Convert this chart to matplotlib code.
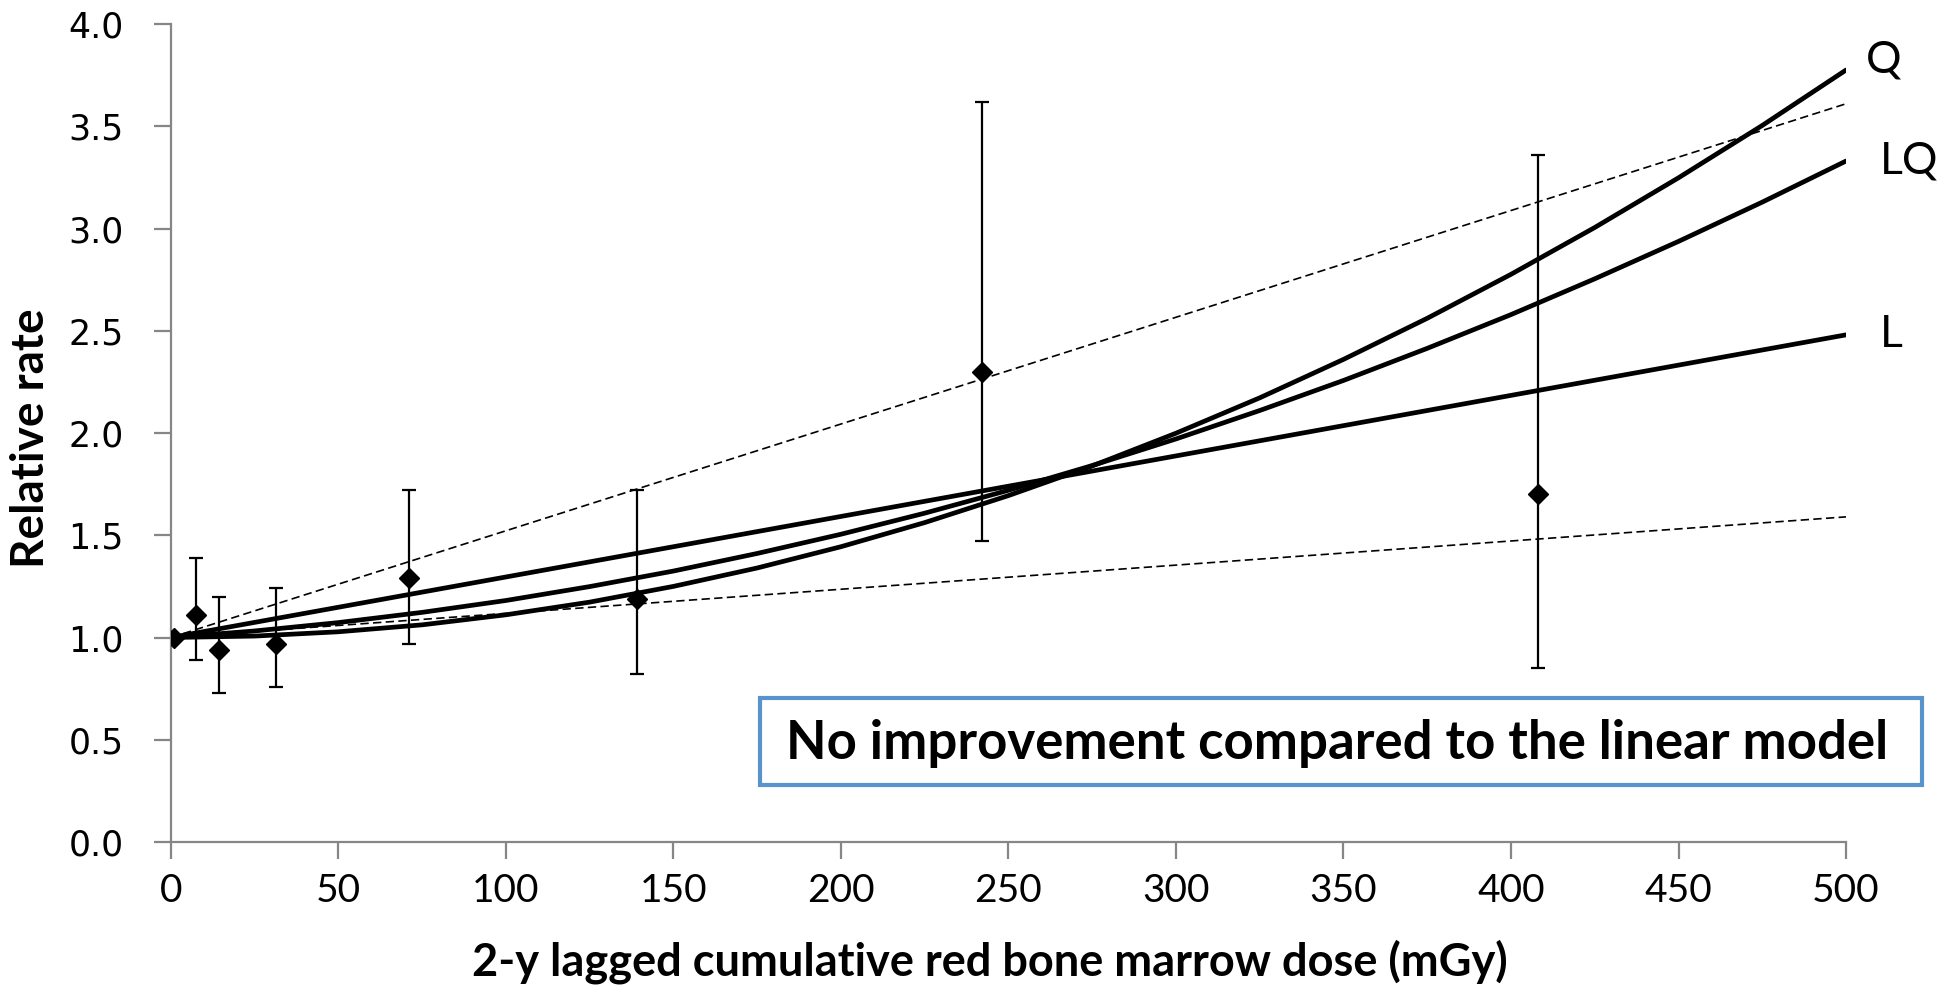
import matplotlib
matplotlib.use("Agg")
import matplotlib.pyplot as plt
from matplotlib.patches import Rectangle

#Step 1: Values
dose = [1, 7.5, 14.5, 31.5, 71, 139, 242, 408]
rate = [1.0, 1.11, 0.94, 0.97, 1.29, 1.19, 2.30, 1.70]
rate_low = [1.0, 0.89, 0.73, 0.76, 0.97, 0.82, 1.47, 0.85]
rate_high = [1.0, 1.39, 1.20, 1.24, 1.72, 1.72, 3.62, 3.36]

#fitted models (read at the line ends / every 25 mGy along the curves)
line_dose = [0, 500]
linear_fit = [1.0, 2.48]
ci_upper = [1.0, 3.61]
ci_lower = [1.0, 1.59]

curve_dose = [0, 25, 50, 75, 100, 125, 150, 175, 200, 225, 250,
              275, 300, 325, 350, 375, 400, 425, 450, 475, 500]
quad_fit = [1.0, 1.007, 1.028, 1.062, 1.111, 1.173, 1.250, 1.340, 1.444, 1.562, 1.694,
            1.839, 1.999, 2.172, 2.360, 2.561, 2.776, 3.005, 3.248, 3.504, 3.775]
lin_quad_fit = [1.0, 1.032, 1.073, 1.123, 1.181, 1.249, 1.325, 1.411, 1.505, 1.608, 1.720,
                1.841, 1.971, 2.110, 2.257, 2.414, 2.579, 2.754, 2.937, 3.129, 3.330]

curve_labels = ["Q", "LQ", "L"]
x_ticks = [0, 50, 100, 150, 200, 250, 300, 350, 400, 450, 500]
y_ticks = [0.0, 0.5, 1.0, 1.5, 2.0, 2.5, 3.0, 3.5, 4.0]

#Step 2: Figure and axes
axis_grey = "#868686"
fig = plt.figure(figsize=(19.51, 9.92), dpi=100)
ax = fig.add_axes([0.0876, 0.1512, 0.8586, 0.8246])

#confidence band of the linear model
ax.plot(line_dose, ci_upper, color="black", lw=1.2, linestyle=(0, (5, 2.6)))
ax.plot(line_dose, ci_lower, color="black", lw=1.2, linestyle=(0, (5, 2.6)))

#model curves
for fit, xs in [(quad_fit, curve_dose), (lin_quad_fit, curve_dose), (linear_fit, line_dose)]:
    ax.plot(xs, fit, color="black", lw=3.4, solid_capstyle="round",
            solid_joinstyle="round")

#observed rates with error bars
err_low = [r - lo for r, lo in zip(rate, rate_low)]
err_high = [hi - r for r, hi in zip(rate, rate_high)]
ax.errorbar(dose, rate, yerr=[err_low, err_high], fmt="D", color="black",
            ms=10.5, elinewidth=1.6, capsize=5, capthick=1.6, zorder=5)

#curve labels at the right end
label_y = [quad_fit[-1] + 0.05, lin_quad_fit[-1], linear_fit[-1]]
label_x = [506, 510, 510]
for txt, lx, ly in zip(curve_labels, label_x, label_y):
    ax.text(lx, ly, txt, fontsize=32, family="Lato", va="center", ha="left",
            clip_on=False)

#Step 3: Axes styling
ax.set_xlim(0, 500)
ax.set_ylim(0, 4.0)
ax.set_xticks(x_ticks)
ax.set_yticks(y_ticks)
ax.set_yticklabels([f"{v:.1f}" for v in y_ticks], fontsize=25, family="DejaVu Sans")
ax.set_xticklabels([str(v) for v in x_ticks], fontsize=28, family="Lato")

for side in ["top", "right"]:
    ax.spines[side].set_visible(False)
for side in ["left", "bottom"]:
    ax.spines[side].set_color(axis_grey)
    ax.spines[side].set_linewidth(1.6)
ax.tick_params(axis="both", direction="out", length=12, width=1.6, color=axis_grey)
ax.tick_params(axis="y", pad=22)
ax.tick_params(axis="x", pad=10)

fig.text(990 / 1951, 1 - 962 / 992, "2-y lagged cumulative red bone marrow dose (mGy)",
         fontsize=32.5, family="Lato", fontweight="bold", ha="center", va="center")
fig.text(31 / 1951, 1 - 438 / 992, "Relative rate", rotation=90, fontsize=33,
         family="Lato", fontweight="bold", ha="center", va="center")

#Step 4: Annotation box
fig.patches.append(Rectangle((760 / 1951, 1 - 785 / 992), 1162 / 1951, 87 / 992,
                             transform=fig.transFigure, facecolor="white",
                             edgecolor="#5893CC", linewidth=3, zorder=10))
fig.text(786 / 1951, 1 - 744 / 992, "No improvement compared to the linear model",
         fontsize=38, family="Lato", fontweight="bold", ha="left", va="center",
         zorder=11)

plt.savefig("out.png", dpi=100)
